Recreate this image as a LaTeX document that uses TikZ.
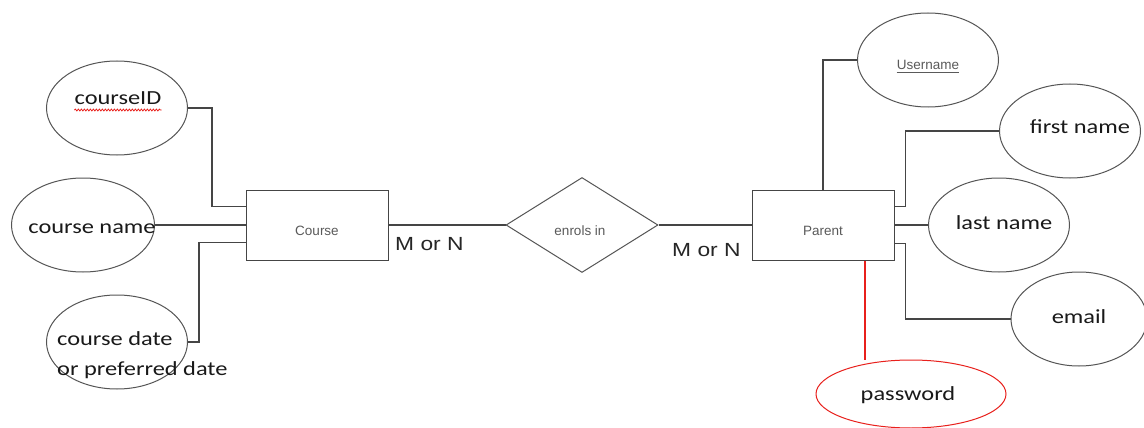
\documentclass[tikz,border=0pt]{standalone}
\usepackage{fontspec}
\usetikzlibrary{shapes.geometric,decorations.pathmorphing,calc}
\newfontfamily\attrfont[FakeStretch=1.22]{Carlito}
\newfontfamily\cardfont[FakeStretch=1.2]{Liberation Sans}
\newfontfamily\smallfont{Liberation Sans}
\definecolor{edge}{HTML}{454545}
\definecolor{outline}{HTML}{555555}
\definecolor{smalltext}{HTML}{5A5A5A}
\definecolor{keyred}{HTML}{E8201C}
\tikzset{
  attr/.style={ellipse, draw=outline, line width=1pt, inner sep=0pt,
    minimum width=141pt, minimum height=94pt},
  entity/.style={rectangle, draw=edge, line width=1pt, inner sep=0pt,
    minimum width=142pt, minimum height=70pt},
  relation/.style={diamond, draw=outline, line width=1pt, inner sep=0pt,
    minimum width=152pt, minimum height=95pt},
  link/.style={draw=edge, line width=1.1pt},
  bigtxt/.style={inner sep=0pt, anchor=base, text=black!90, font=\attrfont\fontsize{20pt}{24pt}\selectfont},
  cardtxt/.style={inner sep=0pt, anchor=base west, font=\cardfont\fontsize{19pt}{23pt}\selectfont, text=black!85},
  smalltxt/.style={inner sep=0pt, anchor=base, font=\smallfont\fontsize{13.5pt}{16pt}\selectfont, text=smalltext}
}
\begin{document}
\begin{tikzpicture}[x=1pt, y=-1pt]
\useasboundingbox[fill=white] (0,0) rectangle (1144,428);

% entities and relationship
\node[entity] (course) at (317,225) {};
\node[entity] (parent) at (823,225) {};
\node[relation] (enrol) at (582,225) {};
\node[smalltxt] (courselbl) at (317,235) {Course};
\node[smalltxt] (parentlbl) at (823,235) {Parent};
\node[smalltxt] (enrollbl) at (580,235) {enrols in};

% course attributes
\node[attr] (cid) at (117,108) {};
\node[attr, minimum width=143pt] (cname) at (83,225) {};
\node[attr] (cdate) at (117,342) {};
\node[bigtxt] (cidlbl) at (118,105) {courseID};
\draw[keyred, line width=0.8pt, decorate,
  decoration={snake, amplitude=0.9pt, segment length=3pt}]
  ($(cidlbl.base west)+(0,5)$) -- ($(cidlbl.base east)+(0,5)$);
\node[bigtxt] (cnamelbl) at (92,233) {course name};
\node[bigtxt, anchor=base west] (cdatelbl) at (57,345) {course date};
\node[bigtxt, anchor=base west] (cdatelbl2) at (57,375) {or preferred date};

% parent attributes
\node[attr] (uname) at (928,60) {};
\node[attr] (fname) at (1070,131) {};
\node[attr] (lname) at (999,225) {};
\node[attr, minimum width=136pt] (email) at (1079,319) {};
\node[attr, draw=keyred, minimum width=190pt, minimum height=68pt] (pwd) at (911,394) {};
\node[smalltxt] (unamelbl) at (928,70) {Username};
\draw[smalltext, line width=0.9pt] ($(unamelbl.base west)+(0,2.5)$) -- ($(unamelbl.base east)+(0,2.5)$);
\node[bigtxt] (fnamelbl) at (1080,133) {first name};
\node[bigtxt] (lnamelbl) at (1004,229) {last name};
\node[bigtxt] (emaillbl) at (1079,323) {email};
\node[bigtxt] (pwdlbl) at (908,400) {password};

% cardinalities
\node[cardtxt] (card1) at (395,250) {M or N};
\node[cardtxt] (card2) at (672,256) {M or N};

% relationship lines
\draw[link] (course.east) -- (enrol.west);
\draw[link] (enrol.east) -- (parent.west);

% course attribute lines
\draw[link] (cid.east) -- ++(24,0) |- ($(course.north west)+(0,17)$);
\draw[link] (cname.east) -- (course.west);
\draw[link] (cdate.east) -- ++(11,0) |- ($(course.south west)+(0,-18)$);

% parent attribute lines
\draw[link] (parent.north) |- (uname.west);
\draw[link] ($(parent.north east)+(0,17)$) -- ++(11,0) |- (fname.west);
\draw[link] (parent.east) -- (lname.west);
\draw[link] ($(parent.south east)+(0,-17)$) -- ++(11,0) |- (email.west);
\coordinate (pwdfoot) at ($(parent.south)+(42,0)$);
\draw[keyred, line width=1.1pt] (pwdfoot) -- (pwdfoot |- pwd.north);
\end{tikzpicture}
\end{document}
